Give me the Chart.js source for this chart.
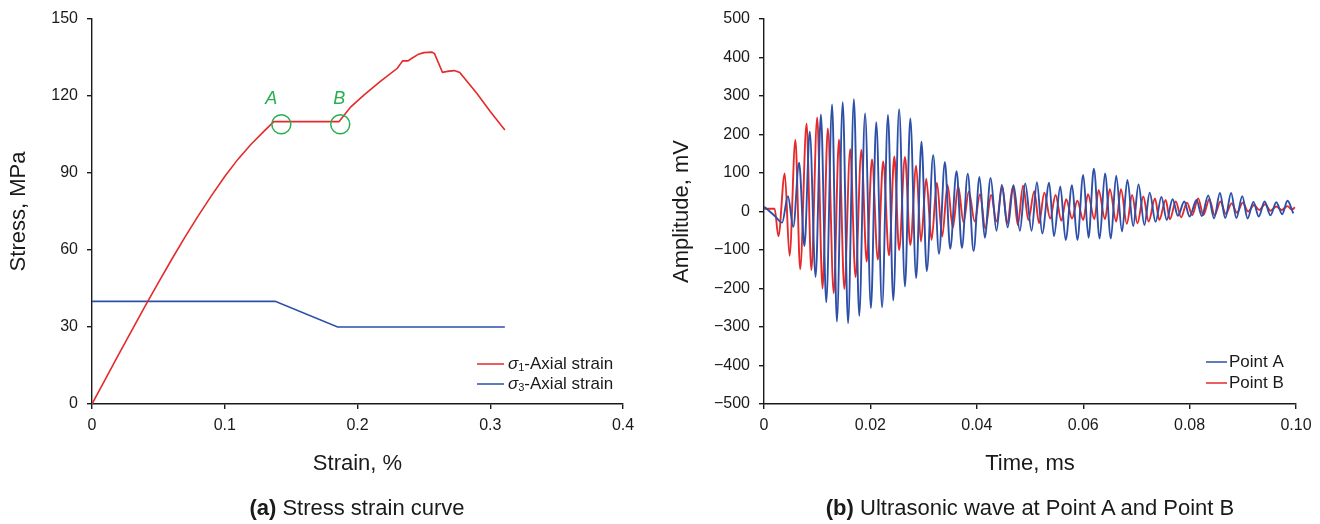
<!DOCTYPE html>
<html>
<head>
<meta charset="utf-8">
<script src="https://cdn.jsdelivr.net/npm/chart.js@4.4.1/dist/chart.umd.min.js"></script>
<style>
  body { margin: 0; background: #fff; }
  #wrap { position: relative; width: 1320px; height: 524px; font-family: "Liberation Sans", Arial, sans-serif; color: #1a1a1a; }
  .panel { position: absolute; top: 0; width: 660px; height: 524px; }
  .caption { position: absolute; top: 495px; width: 660px; line-height: 26px; text-align: center; font-size: 22px; }
</style>
</head>
<body>
<div id="wrap">
  <div class="panel" style="left:0"><canvas id="chart_stress" width="660" height="524"></canvas></div>
  <div class="panel" style="left:660px"><canvas id="chart_wave" width="660" height="524"></canvas></div>
  <div class="caption" style="left:27px"><b>(a)</b> Stress strain curve</div>
  <div class="caption" style="left:700px"><b>(b)</b> Ultrasonic wave at Point A and Point B</div>
</div>
<script>
// stress-strain test record
var strainS1 = [0, 0.010, 0.020, 0.030, 0.040, 0.050, 0.060, 0.070, 0.080, 0.090, 0.100, 0.110, 0.120, 0.130, 0.137,
                0.186, 0.195, 0.205, 0.217, 0.230, 0.234, 0.238, 0.241, 0.246, 0.250, 0.256, 0.258, 0.264, 0.269,
                0.273, 0.277, 0.290, 0.300, 0.311];
var stressS1 = [0, 9.6, 19.2, 28.7, 38.1, 47.3, 56.3, 65.0, 73.3, 81.2, 88.6, 95.4, 101.3, 106.5, 110,
                110, 115.8, 120.4, 125.6, 130.8, 133.7, 133.7, 134.7, 136.3, 136.9, 137.1, 136.5, 129.2, 129.7,
                129.9, 129.2, 121, 114, 106.8];
var strainS3 = [0, 0.138, 0.185, 0.311];
var stressS3 = [40, 40, 30, 30];

// measuring points on the holding stage
var markerName = ['A', 'B'];
var markerStrain = [0.1426, 0.187];
var markerStress = [109, 109];

// ultrasonic records (time in ms, amplitude in mV)
var timeA = [0, 0.0006, 0.0022, 0.0034, 0.0045, 0.0055, 0.0066, 0.0076, 0.0086, 0.0097,
             0.0107, 0.0117, 0.0128, 0.0137, 0.0148, 0.0158, 0.0169, 0.0179, 0.0190, 0.0201,
             0.0211, 0.0222, 0.0233, 0.0243, 0.0254, 0.0265, 0.0275, 0.0286, 0.0296, 0.0306,
             0.0318, 0.0329, 0.0340, 0.0350, 0.0362, 0.0372, 0.0383, 0.0394, 0.0405, 0.0415,
             0.0426, 0.0437, 0.0447, 0.0458, 0.0469, 0.0481, 0.0491, 0.0503, 0.0513, 0.0523,
             0.0536, 0.0545, 0.0557, 0.0567, 0.0579, 0.0589, 0.0600, 0.0610, 0.0620, 0.0631,
             0.0641, 0.0652, 0.0662, 0.0673, 0.0683, 0.0694, 0.0704, 0.0715, 0.0725, 0.0736,
             0.0747, 0.0757, 0.0768, 0.0778, 0.0790, 0.0800, 0.0813, 0.0823, 0.0835, 0.0846,
             0.0857, 0.0867, 0.0878, 0.0888, 0.0899, 0.0909, 0.0920, 0.0930, 0.0941, 0.0952,
             0.0963, 0.0974, 0.0984, 0.0995];
var ampA = [12, 6, -14, -29, 40, -40, 127, -90, 207, -170,
            252, -236, 278, -286, 284, -290, 292, -271, 255, -251,
            232, -249, 251, -231, 266, -195, 242, -173, 181, -155,
            146, -110, 129, -97, 105, -95, 98, -103, 90, -68,
            87, -50, 69, -41, 68, -50, 73, -50, 76, -57,
            75, -64, 65, -74, 68, -74, 95, -68, 111, -70,
            99, -70, 93, -52, 82, -38, 70, -35, 49, -27,
            38, -22, 32, -11, 26, -13, 30, -12, 42, -18,
            48, -17, 48, -17, 40, -18, 25, -13, 26, -10,
            24, -7, 28, -5];
var timeB = [0, 0.0020, 0.0027, 0.0039, 0.0048, 0.0059, 0.0068, 0.0080, 0.0089, 0.0100,
             0.0110, 0.0120, 0.0131, 0.0141, 0.0151, 0.0162, 0.0172, 0.0183, 0.0193, 0.0203,
             0.0214, 0.0224, 0.0235, 0.0245, 0.0254, 0.0265, 0.0275, 0.0286, 0.0295, 0.0305,
             0.0315, 0.0325, 0.0335, 0.0345, 0.0355, 0.0365, 0.0375, 0.0385, 0.0396, 0.0406,
             0.0416, 0.0427, 0.0437, 0.0448, 0.0457, 0.0468, 0.0477, 0.0487, 0.0497, 0.0508,
             0.0517, 0.0527, 0.0538, 0.0548, 0.0559, 0.0568, 0.0579, 0.0589, 0.0600, 0.0609,
             0.0621, 0.0629, 0.0641, 0.0650, 0.0662, 0.0671, 0.0682, 0.0692, 0.0702, 0.0713,
             0.0723, 0.0735, 0.0743, 0.0755, 0.0763, 0.0774, 0.0784, 0.0795, 0.0805, 0.0816,
             0.0826, 0.0837, 0.0847, 0.0858, 0.0868, 0.0879, 0.0889, 0.0900, 0.0910, 0.0921,
             0.0931, 0.0942, 0.0952, 0.0963, 0.0973, 0.0984, 0.0992, 0.0998];
var ampB = [7, 7, -64, 99, -115, 186, -150, 228, -152, 244,
            -200, 216, -212, 187, -201, 162, -170, 160, -130, 135,
            -125, 130, -114, 143, -100, 142, -87, 119, -78, 85,
            -74, 75, -65, 69, -42, 66, -28, 52, -26, 45,
            -44, 43, -26, 65, -31, 65, -35, 67, -22, 53,
            -30, 49, -18, 43, -24, 32, -18, 28, -22, 45,
            -20, 56, -20, 58, -26, 58, -32, 43, -31, 39,
            -26, 34, -22, 30, -20, 26, -15, 23, -9, 34,
            -9, 32, -9, 26, -6, 21, -3, 23, 0, 17,
            4, 19, 2, 13, 4, 14, 5, 11];

var RED = '#e42a2a';
var BLUE = '#2c4fa8';
var GREEN = '#2aae52';
var INK = '#1a1a1a';
var FONT = '"Liberation Sans", Arial, sans-serif';

Chart.defaults.font.family = FONT;
Chart.defaults.color = INK;

function xy(xs, ys) {
    return xs.map(function (x, i) { return { x: x, y: ys[i] }; });
}

function minus(v) {
    return v < 0 ? '\u2212' + Math.abs(v) : '' + v;
}

// legend drawn inside the plot, parts allow the italic sigma + subscript
function insideLegend(x, y, rowHeight, lineLength, gap) {
    return {
        id: 'insideLegend',
        afterDraw: function (chart) {
            var ctx = chart.ctx;
            var items = chart.data.datasets.filter(function (ds) { return ds.legendParts; });
            ctx.save();
            ctx.textBaseline = 'middle';
            items.forEach(function (ds, i) {
                var yy = y + i * rowHeight;
                ctx.strokeStyle = ds.borderColor;
                ctx.lineWidth = 1.5;
                ctx.beginPath();
                ctx.moveTo(x, yy);
                ctx.lineTo(x + lineLength, yy);
                ctx.stroke();
                var tx = x + lineLength + gap;
                ctx.fillStyle = INK;
                ds.legendParts.forEach(function (p) {
                    var size = p.sub ? 11 : 17;
                    ctx.font = (p.italic ? 'italic ' : '') + size + 'px ' + FONT;
                    ctx.fillText(p.text, tx, yy + (p.sub ? 4 : 0));
                    tx += ctx.measureText(p.text).width;
                });
            });
            ctx.restore();
        }
    };
}

// letters above the marker circles
var markerLabels = {
    id: 'markerLabels',
    afterDatasetsDraw: function (chart) {
        var ctx = chart.ctx;
        var offX = [-10, -1];
        var offY = [-25, -25];
        chart.data.datasets.forEach(function (ds, di) {
            if (!ds.markerText) return;
            var meta = chart.getDatasetMeta(di);
            ctx.save();
            ctx.font = 'italic 18px ' + FONT;
            ctx.fillStyle = GREEN;
            ctx.textAlign = 'center';
            ctx.textBaseline = 'middle';
            meta.data.forEach(function (pt, i) {
                ctx.fillText(ds.markerText[i], pt.x + offX[i], pt.y + offY[i]);
            });
            ctx.restore();
        });
    }
};

function axisX(min, max, step, digits, title, afterH) {
    return {
        type: 'linear', min: min, max: max,
        ticks: {
            stepSize: step, padding: 7, color: INK, font: { size: 16 },
            callback: function (v) { return v === 0 ? '0' : v.toFixed(digits); }
        },
        grid: { drawOnChartArea: false, drawTicks: true, tickLength: 5, color: INK, lineWidth: 1.4 },
        border: { display: true, color: INK, width: 1.4 },
        title: { display: true, text: title, color: INK, font: { size: 22 }, padding: { top: 0, bottom: 47 } },
        afterFit: function (s) { s.height = afterH; }
    };
}

function axisY(min, max, step, title, width, titlePad) {
    return {
        type: 'linear', min: min, max: max,
        ticks: { stepSize: step, padding: 9, color: INK, font: { size: 16 }, callback: minus },
        grid: { drawOnChartArea: false, drawTicks: true, tickLength: 5, color: INK, lineWidth: 1.4 },
        border: { display: true, color: INK, width: 1.4 },
        title: { display: true, text: title, color: INK, font: { size: 22 }, padding: { top: titlePad, bottom: 0 } },
        afterFit: function (s) { s.width = width; }
    };
}

var common = {
    responsive: false,
    animation: false,
    events: [],
    plugins: { legend: { display: false }, tooltip: { enabled: false } }
};

new Chart(document.getElementById('chart_stress').getContext('2d'), {
    type: 'line',
    data: {
        datasets: [{
            label: 'markers',
            data: xy(markerStrain, markerStress),
            markerText: markerName,
            showLine: false,
            pointRadius: 9.5,
            pointBorderWidth: 1.5,
            pointBorderColor: GREEN,
            pointBackgroundColor: 'rgba(0,0,0,0)',
            order: -1
        }, {
            label: '\u03c31-Axial strain',
            legendParts: [{ text: '\u03c3', italic: true }, { text: '1', sub: true }, { text: '-Axial strain' }],
            data: xy(strainS1, stressS1),
            borderColor: RED,
            borderWidth: 1.6,
            pointRadius: 0,
            tension: 0
        }, {
            label: '\u03c33-Axial strain',
            legendParts: [{ text: '\u03c3', italic: true }, { text: '3', sub: true }, { text: '-Axial strain' }],
            data: xy(strainS3, stressS3),
            borderColor: BLUE,
            borderWidth: 1.6,
            pointRadius: 0,
            tension: 0
        }]
    },
    options: Object.assign({}, common, {
        layout: { padding: { top: 19, right: 37, bottom: 0, left: 0 } },
        scales: {
            x: axisX(0, 0.4, 0.1, 1, 'Strain, %', 120),
            y: axisY(0, 150, 30, 'Stress, MPa', 92, 6)
        }
    }),
    plugins: [insideLegend(477, 364, 20, 27, 4), markerLabels]
});

new Chart(document.getElementById('chart_wave').getContext('2d'), {
    type: 'line',
    data: {
        datasets: [{
            label: 'Point A',
            legendParts: [{ text: 'Point A' }],
            data: xy(timeA, ampA),
            borderColor: BLUE,
            borderWidth: 1.9,
            pointRadius: 0,
            cubicInterpolationMode: 'monotone'
        }, {
            label: 'Point B',
            legendParts: [{ text: 'Point B' }],
            data: xy(timeB, ampB),
            borderColor: RED,
            borderWidth: 1.9,
            pointRadius: 0,
            cubicInterpolationMode: 'monotone'
        }]
    },
    options: Object.assign({}, common, {
        layout: { padding: { top: 19, right: 24, bottom: 0, left: 0 } },
        scales: {
            x: axisX(0, 0.1, 0.02, 2, 'Time, ms', 120),
            y: axisY(-500, 500, 100, 'Amplitude, mV', 104, 9)
        }
    }),
    plugins: [insideLegend(546, 362, 21, 21, 2)]
});
</script>
</body>
</html>
